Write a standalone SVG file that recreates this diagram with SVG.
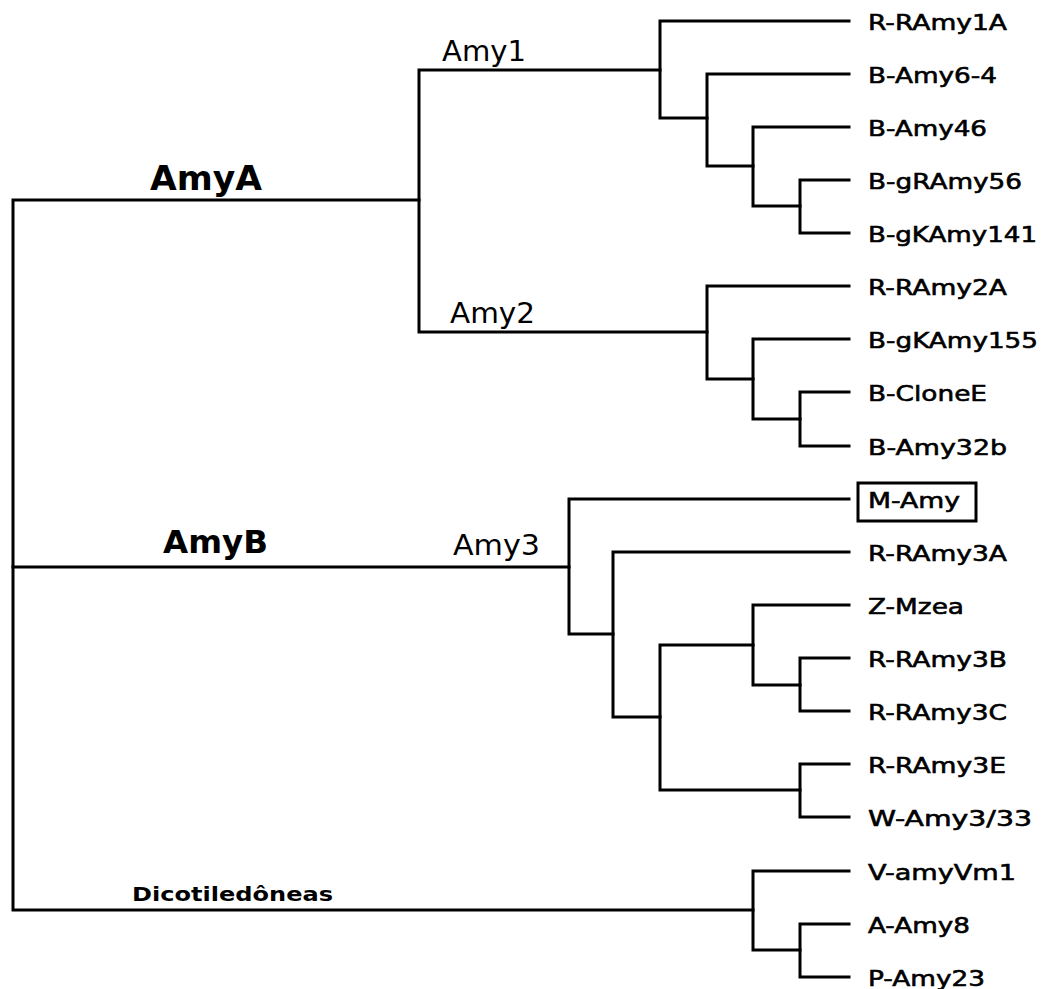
<svg xmlns="http://www.w3.org/2000/svg" width="1045" height="989" viewBox="0 0 1045 989">
<style>
.e{fill:none;stroke:#000;stroke-width:3;stroke-linejoin:miter;stroke-linecap:square}
.leaf{font-family:"DejaVu Sans",Verdana,sans-serif;font-size:22px;fill:#000;stroke:#000;stroke-width:0.6}
.grp{font-family:"DejaVu Sans",Verdana,sans-serif;font-size:28px;fill:#000}
.big{font-family:"DejaVu Sans",Verdana,sans-serif;font-size:34px;font-weight:bold;fill:#000}
.dic{font-family:"DejaVu Sans",Verdana,sans-serif;font-size:20px;font-weight:bold;fill:#000}
</style>
<rect width="1045" height="989" fill="#fff"/>
<g id="connectors">
<path class="e" d="M419,200 H13 V910 H753"/>
<path class="e" d="M13,567 H569"/>
<path class="e" d="M660,70 H419 V332 H707"/>
<path class="e" d="M849,21 H660 V118 H707"/>
<path class="e" d="M849,74 H707 V166 H753"/>
<path class="e" d="M849,127 H753 V206 H800"/>
<path class="e" d="M849,180 H800 V233 H849"/>
<path class="e" d="M849,286 H707 V379 H753"/>
<path class="e" d="M849,339 H753 V419 H800"/>
<path class="e" d="M849,392 H800 V446 H849"/>
<path class="e" d="M849,499 H569 V634 H613"/>
<path class="e" d="M849,552 H613 V717 H660"/>
<path class="e" d="M753,645 H660 V790 H800"/>
<path class="e" d="M849,605 H753 V685 H800"/>
<path class="e" d="M849,658 H800 V711 H849"/>
<path class="e" d="M849,764 H800 V817 H849"/>
<path class="e" d="M849,871 H753 V950 H800"/>
<path class="e" d="M849,924 H800 V977 H849"/>
</g>
<g id="clade-labels">
<g id="lbl-AmyA"><text class="big" x="150" y="190" textLength="112" lengthAdjust="spacingAndGlyphs">AmyA</text></g>
<g id="lbl-AmyB"><text class="big" x="163" y="553" textLength="105" lengthAdjust="spacingAndGlyphs" style="font-size:32px">AmyB</text></g>
<g id="lbl-Amy1"><text class="grp" x="442" y="61" textLength="84" lengthAdjust="spacingAndGlyphs">Amy1</text></g>
<g id="lbl-Amy2"><text class="grp" x="450" y="323" textLength="85" lengthAdjust="spacingAndGlyphs">Amy2</text></g>
<g id="lbl-Amy3"><text class="grp" x="453" y="555" textLength="87" lengthAdjust="spacingAndGlyphs">Amy3</text></g>
<g id="lbl-Dicot"><text class="dic" x="132" y="901" textLength="201" lengthAdjust="spacingAndGlyphs">Dicotiledôneas</text></g>
</g>
<g id="leaf-R-RAmy1A"><text class="leaf" x="868" y="30" textLength="139" lengthAdjust="spacingAndGlyphs">R-RAmy1A</text></g>
<g id="leaf-B-Amy6-4"><text class="leaf" x="868" y="83" textLength="129" lengthAdjust="spacingAndGlyphs">B-Amy6-4</text></g>
<g id="leaf-B-Amy46"><text class="leaf" x="868" y="136" textLength="119" lengthAdjust="spacingAndGlyphs">B-Amy46</text></g>
<g id="leaf-B-gRAmy56"><text class="leaf" x="868" y="189" textLength="154" lengthAdjust="spacingAndGlyphs">B-gRAmy56</text></g>
<g id="leaf-B-gKAmy141"><text class="leaf" x="868" y="242" textLength="169" lengthAdjust="spacingAndGlyphs">B-gKAmy141</text></g>
<g id="leaf-R-RAmy2A"><text class="leaf" x="868" y="295" textLength="139" lengthAdjust="spacingAndGlyphs">R-RAmy2A</text></g>
<g id="leaf-B-gKAmy155"><text class="leaf" x="868" y="348" textLength="170" lengthAdjust="spacingAndGlyphs">B-gKAmy155</text></g>
<g id="leaf-B-CloneE"><text class="leaf" x="868" y="401" textLength="119" lengthAdjust="spacingAndGlyphs">B-CloneE</text></g>
<g id="leaf-B-Amy32b"><text class="leaf" x="868" y="455" textLength="139" lengthAdjust="spacingAndGlyphs">B-Amy32b</text></g>
<g id="leaf-M-Amy"><rect x="858" y="483" width="118" height="38" fill="none" stroke="#000" stroke-width="3"/><text class="leaf" x="868" y="508" textLength="92" lengthAdjust="spacingAndGlyphs">M-Amy</text></g>
<g id="leaf-R-RAmy3A"><text class="leaf" x="868" y="561" textLength="139" lengthAdjust="spacingAndGlyphs">R-RAmy3A</text></g>
<g id="leaf-Z-Mzea"><text class="leaf" x="868" y="614" textLength="96" lengthAdjust="spacingAndGlyphs">Z-Mzea</text></g>
<g id="leaf-R-RAmy3B"><text class="leaf" x="868" y="667" textLength="139" lengthAdjust="spacingAndGlyphs">R-RAmy3B</text></g>
<g id="leaf-R-RAmy3C"><text class="leaf" x="868" y="720" textLength="139" lengthAdjust="spacingAndGlyphs">R-RAmy3C</text></g>
<g id="leaf-R-RAmy3E"><text class="leaf" x="868" y="773" textLength="138" lengthAdjust="spacingAndGlyphs">R-RAmy3E</text></g>
<g id="leaf-W-Amy3-33"><text class="leaf" x="868" y="826" textLength="164" lengthAdjust="spacingAndGlyphs">W-Amy3/33</text></g>
<g id="leaf-V-amyVm1"><text class="leaf" x="868" y="880" textLength="148" lengthAdjust="spacingAndGlyphs">V-amyVm1</text></g>
<g id="leaf-A-Amy8"><text class="leaf" x="868" y="933" textLength="102" lengthAdjust="spacingAndGlyphs">A-Amy8</text></g>
<g id="leaf-P-Amy23"><text class="leaf" x="868" y="986" textLength="117" lengthAdjust="spacingAndGlyphs">P-Amy23</text></g>
</svg>
